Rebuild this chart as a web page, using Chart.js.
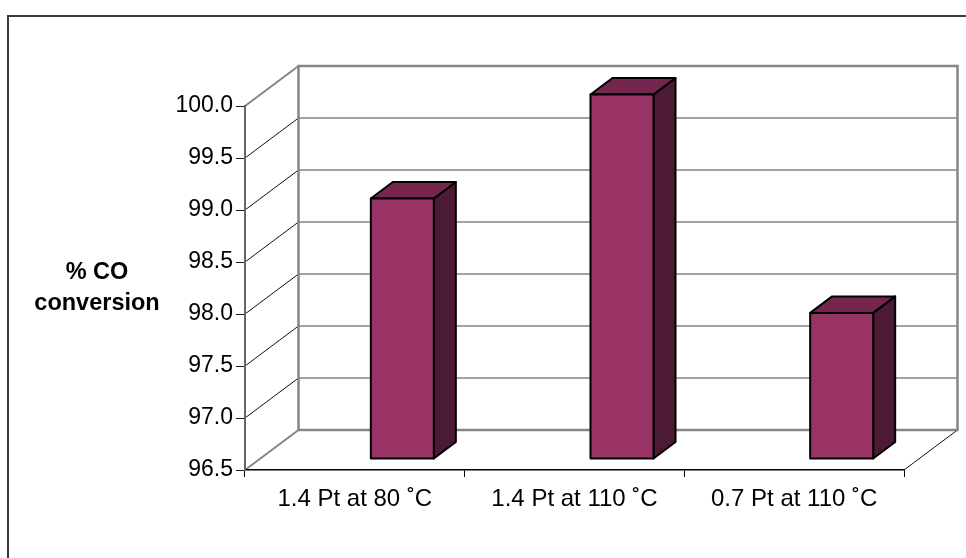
<!DOCTYPE html>
<html>
<head>
<meta charset="utf-8">
<title>% CO conversion</title>
<script src="https://cdn.jsdelivr.net/npm/chart.js@4.4.1/dist/chart.umd.min.js"></script>
<style>
  html, body { margin: 0; padding: 0; background: #ffffff; }
  #wrap { width: 966px; height: 558px; }
</style>
</head>
<body>
<div id="wrap"><canvas id="chart" width="966" height="558"></canvas></div>
<script>
// Catalyst runs and their CO conversion (%)
const categories = ['1.4 Pt at 80 \u02DAC', '1.4 Pt at 110 \u02DAC', '0.7 Pt at 110 \u02DAC'];
const conversion = [99.0, 100.0, 97.9];
const yMin = 96.5;
const yMax = 100.0;
const yStep = 0.5;
const yTitleLines = ['% CO', 'conversion'];

const FONT = '"Liberation Sans", Arial, Helvetica, sans-serif';

// Pseudo-3D geometry (pixels)
const WALL_DX = 53.5, WALL_DY = -40;      // depth of the wall box
const BAR_SHIFT_X = 16, BAR_SHIFT_Y = -11.5; // bar front face behind the front plane
const BAR_W = 63;                          // front face width
const BAR_DX = 22, BAR_DY = -16.5;         // bar depth

const COLORS = {
  front: '#993366',
  top: '#74264f',
  side: '#4d1a35',
  wall: '#858585',
  frame: '#3a3a3a'
};

const wallsPlugin = {
  id: 'walls3d',
  beforeDraw(chart) {
    const ctx = chart.ctx;
    const ca = chart.chartArea;
    const y = chart.scales.y;
    const L = ca.left, R = ca.right, T = ca.top, B = ca.bottom;

    ctx.save();
    // outer frame
    ctx.strokeStyle = COLORS.frame;
    ctx.lineWidth = 2;
    ctx.beginPath();
    ctx.moveTo(8, chart.height + 10);
    ctx.lineTo(8, 16);
    ctx.lineTo(chart.width + 10, 16);
    ctx.stroke();

    // back wall gridlines
    ctx.strokeStyle = COLORS.wall;
    ctx.lineWidth = 1.5;
    for (let v = yMin + yStep; v < yMax - 1e-9; v += yStep) {
      const py = y.getPixelForValue(v) + WALL_DY;
      ctx.beginPath();
      ctx.moveTo(L + WALL_DX, py);
      ctx.lineTo(R + WALL_DX, py);
      ctx.stroke();
    }
    // side wall gridlines
    ctx.strokeStyle = '#111';
    ctx.lineWidth = 1;
    for (let v = yMin + yStep; v < yMax - 1e-9; v += yStep) {
      const py = y.getPixelForValue(v);
      ctx.beginPath();
      ctx.moveTo(L, py);
      ctx.lineTo(L + WALL_DX, py + WALL_DY);
      ctx.stroke();
    }
    // floor right edge
    ctx.beginPath();
    ctx.moveTo(R, B);
    ctx.lineTo(R + WALL_DX, B + WALL_DY);
    ctx.stroke();

    // back wall outline and wall edges
    ctx.strokeStyle = COLORS.wall;
    ctx.lineWidth = 2.5;
    ctx.strokeRect(L + WALL_DX, T + WALL_DY, R - L, B - T);
    ctx.lineWidth = 2;
    ctx.beginPath();
    ctx.moveTo(L, T);
    ctx.lineTo(L + WALL_DX, T + WALL_DY);
    ctx.moveTo(L, B);
    ctx.lineTo(L + WALL_DX, B + WALL_DY);
    ctx.stroke();

    // horizontal y-axis title
    ctx.fillStyle = '#000';
    ctx.font = 'bold 23.5px ' + FONT;
    ctx.textAlign = 'center';
    ctx.textBaseline = 'middle';
    const cy = (T + B) / 2;
    const lh = 31.5;
    yTitleLines.forEach((line, i) => {
      ctx.fillText(line, 97, cy + (i - (yTitleLines.length - 1) / 2) * lh);
    });
    ctx.restore();
  },
  afterDatasetsDraw(chart) {
    const ctx = chart.ctx;
    const y = chart.scales.y;
    const meta = chart.getDatasetMeta(0);
    const base = y.getPixelForValue(yMin) + BAR_SHIFT_Y;
    ctx.save();
    ctx.lineJoin = 'round';
    ctx.strokeStyle = '#000';
    ctx.lineWidth = 2;
    meta.data.forEach((el) => {
      const l = el.x + BAR_SHIFT_X;
      const r = l + BAR_W;
      const t = el.y + BAR_SHIFT_Y;
      const b = base;
      // side face
      ctx.fillStyle = COLORS.side;
      ctx.beginPath();
      ctx.moveTo(r, t);
      ctx.lineTo(r + BAR_DX, t + BAR_DY);
      ctx.lineTo(r + BAR_DX, b + BAR_DY);
      ctx.lineTo(r, b);
      ctx.closePath();
      ctx.fill();
      ctx.stroke();
      // top face
      ctx.fillStyle = COLORS.top;
      ctx.beginPath();
      ctx.moveTo(l, t);
      ctx.lineTo(l + BAR_DX, t + BAR_DY);
      ctx.lineTo(r + BAR_DX, t + BAR_DY);
      ctx.lineTo(r, t);
      ctx.closePath();
      ctx.fill();
      ctx.stroke();
      // front face
      ctx.fillStyle = COLORS.front;
      ctx.beginPath();
      ctx.rect(l, t, r - l, b - t);
      ctx.fill();
      ctx.stroke();
    });
    ctx.restore();
  }
};

new Chart(document.getElementById('chart'), {
  type: 'bar',
  data: {
    labels: categories,
    datasets: [{
      label: '% CO conversion',
      data: conversion,
      backgroundColor: 'rgba(0,0,0,0)',
      borderWidth: 0
    }]
  },
  options: {
    responsive: false,
    animation: false,
    devicePixelRatio: 1,
    layout: { padding: { top: 106, right: 62, bottom: 0, left: 0 } },
    plugins: {
      legend: { display: false },
      tooltip: { enabled: false }
    },
    scales: {
      x: {
        afterFit(scale) { scale.height = 88; },
        grid: {
          offset: true,
          drawOnChartArea: false,
          drawTicks: true,
          tickLength: 7,
          tickColor: '#000',
          tickWidth: 1
        },
        border: { display: true, color: '#000', width: 1.5 },
        ticks: {
          color: '#000',
          padding: 8,
          maxRotation: 0,
          font: { family: FONT, size: 24 }
        }
      },
      y: {
        min: yMin,
        max: yMax,
        afterFit(scale) { scale.width = 245; },
        grid: {
          drawOnChartArea: false,
          drawTicks: true,
          tickLength: 9,
          tickColor: '#222',
          tickWidth: 1
        },
        border: { display: true, color: '#666', width: 2 },
        ticks: {
          stepSize: yStep,
          color: '#000',
          padding: 3,
          font: { family: FONT, size: 23 },
          callback: (v) => Number(v).toFixed(1)
        }
      }
    }
  },
  plugins: [wallsPlugin]
});
</script>
</body>
</html>
